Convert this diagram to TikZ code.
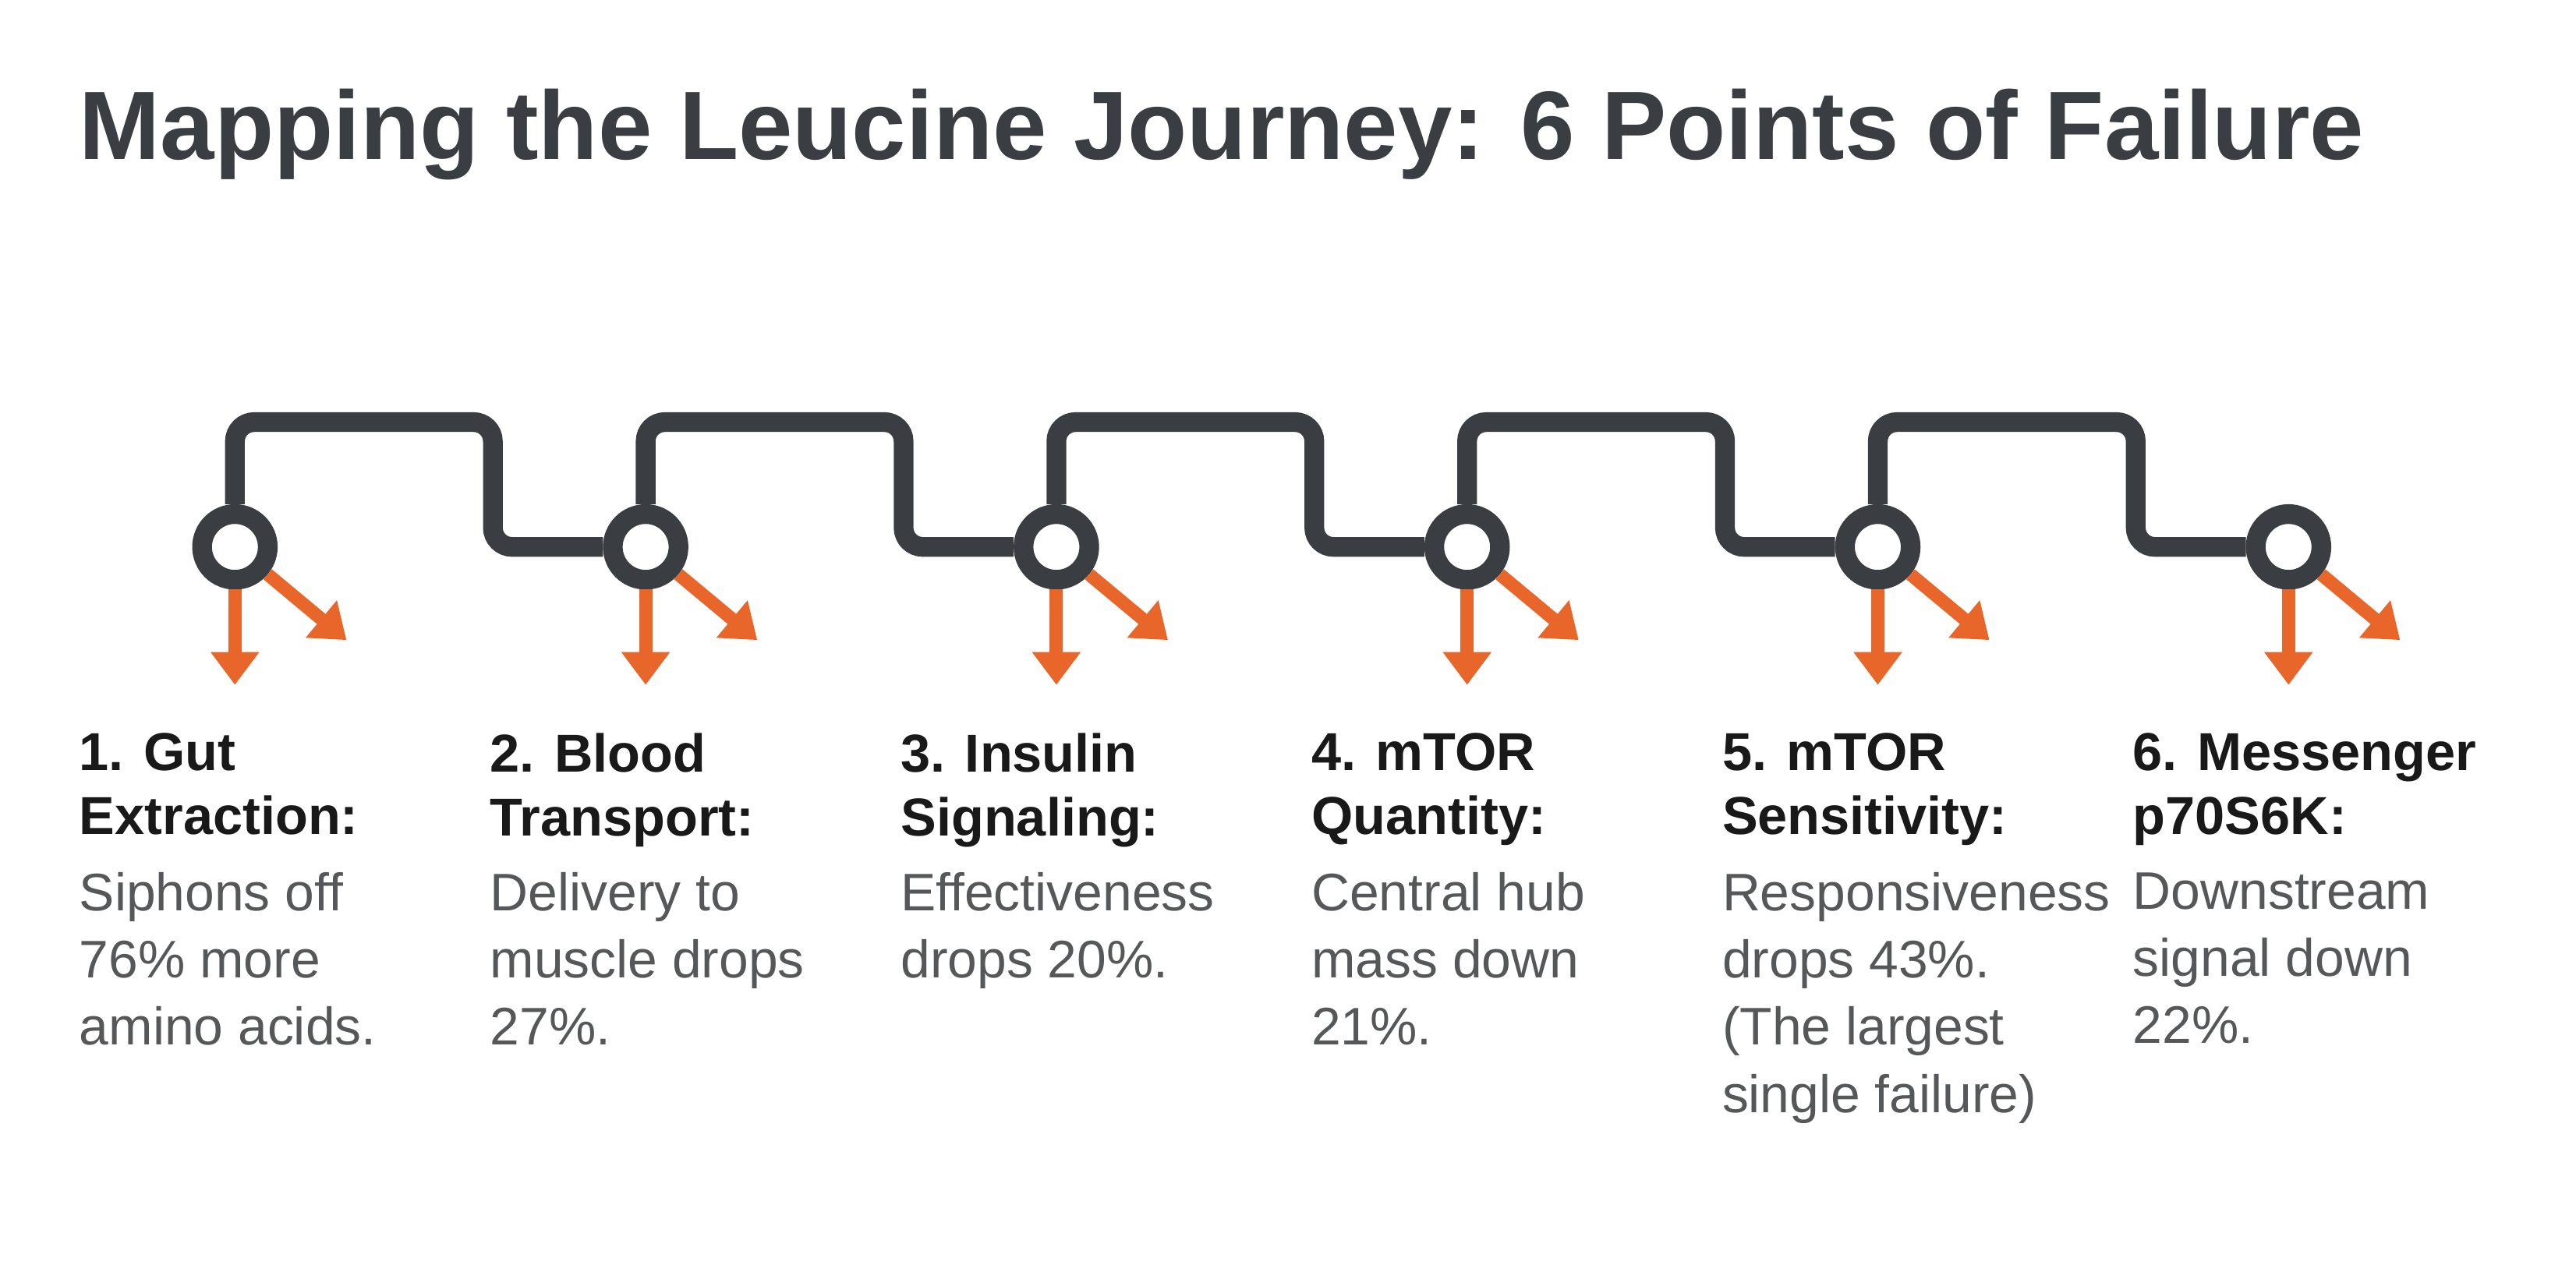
\documentclass[tikz,border=0pt]{standalone}
\usepackage{fontspec}
\setmainfont{Liberation Sans}
\usetikzlibrary{arrows.meta}
\definecolor{ink}{HTML}{3A3D41}
\definecolor{body}{HTML}{555759}
\definecolor{leak}{HTML}{E8662A}
\begin{document}
\begin{tikzpicture}[x=0.02107cm, y=-0.02107cm,
    track/.style={draw=ink, line width=12*0.02107cm, rounded corners=7pt},
    stop/.style={circle, draw=ink, fill=white, line width=12*0.02107cm, minimum size=40*0.02107cm, inner sep=0pt},
    drop/.style={draw=leak, line width=8*0.02107cm, -{Triangle[length=12pt, width=17pt]}},
    head/.style={anchor=north west, align=left, font=\fontsize{19.5}{23.5}\selectfont\bfseries, text=black!90, inner sep=0pt},
    info/.style={anchor=north west, align=left, font=\fontsize{19.3}{24.5}\selectfont, text=body, inner sep=0pt}
]
\useasboundingbox (0,0) rectangle (1568,774.5);
\node[anchor=base west, inner sep=0pt, text=ink, font=\fontsize{35.5}{40}\selectfont\bfseries] (title) at (48,97) {Mapping the Leucine Journey: 6 Points of Failure};

% track with stops
\foreach \i in {1,...,6} {
  \node[stop] (s\i) at ({143+250*(\i-1)},333) {};
}
\foreach \i/\j in {1/2,2/3,3/4,4/5,5/6} {
  \draw[track] (s\i.north) |- ++(157,-50) |- (s\j.west);
}
\foreach \i in {1,...,6} {
  \coordinate (d\i) at ([yshift=-58*0.02107cm]s\i.south);
  \coordinate (e\i) at ([xshift=48*0.02107cm, yshift=-40*0.02107cm]s\i.-40);
  \draw[drop] (s\i.south) -- (d\i);
  \draw[drop] (s\i.-40) -- (e\i);
}

% labels
\node[head] (h1) at (48,446) {1. Gut\\Extraction:};
\node[info] (t1) at (48,531) {Siphons off\\76\% more\\amino acids.};
\node[head] (h2) at (298,446) {2. Blood\\Transport:};
\node[info] (t2) at (298,531) {Delivery to\\muscle drops\\27\%.};
\node[head] (h3) at (548,446) {3. Insulin\\Signaling:};
\node[info] (t3) at (548,531) {Effectiveness\\drops 20\%.};
\node[head] (h4) at (798,446) {4. mTOR\\Quantity:};
\node[info] (t4) at (798,531) {Central hub\\mass down\\21\%.};
\node[head] (h5) at (1048,446) {5. mTOR\\Sensitivity:};
\node[info] (t5) at (1048,531) {Responsiveness\\drops 43\%.\\(The largest\\single failure)};
\node[head] (h6) at (1298,446) {6. Messenger\\p70S6K:};
\node[info] (t6) at (1298,531) {Downstream\\signal down\\22\%.};
\end{tikzpicture}
\end{document}
